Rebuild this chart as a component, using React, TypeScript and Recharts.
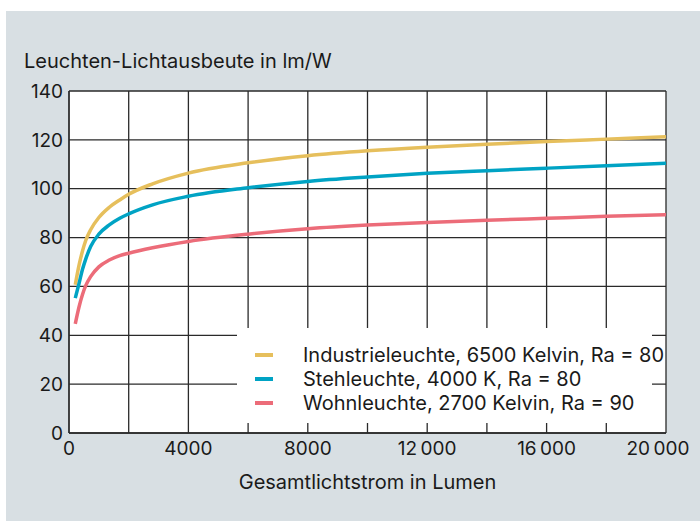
import { CartesianGrid, Legend, Line, LineChart, XAxis, YAxis } from "recharts";

const lumen = [210, 340, 450, 560, 730, 1000, 1350, 1700, 2000, 2800, 4000, 6000, 8000, 10000, 12000, 14000, 16000, 18000, 20000];
const industrie = [60.7, 68.9, 74.4, 78.8, 83.3, 88.2, 92.4, 95.4, 97.7, 102.0, 106.4, 110.6, 113.5, 115.5, 117.0, 118.2, 119.3, 120.3, 121.3];
const steh = [55.2, 61.4, 66.9, 71.2, 76.4, 81.4, 85.2, 87.9, 89.7, 93.4, 96.9, 100.4, 103.0, 104.8, 106.3, 107.4, 108.4, 109.4, 110.4];
const wohn = [44.7, 51.8, 56.6, 60.3, 64.1, 68.0, 70.8, 72.6, 73.6, 75.8, 78.4, 81.4, 83.6, 85.1, 86.2, 87.1, 87.9, 88.7, 89.4];

const xTicks = [0, 2000, 4000, 6000, 8000, 10000, 12000, 14000, 16000, 18000, 20000];
const yTicks = [0, 20, 40, 60, 80, 100, 120, 140];

const series = [
  { key: "industrie", name: "Industrieleuchte, 6500 Kelvin, Ra = 80", color: "#e6bf5c" },
  { key: "steh", name: "Stehleuchte, 4000 K, Ra = 80", color: "#00a3c4" },
  { key: "wohn", name: "Wohnleuchte, 2700 Kelvin, Ra = 90", color: "#ec6c79" }
];

const data = lumen.map((x, i) => ({ x, industrie: industrie[i], steh: steh[i], wohn: wohn[i] }));

const FONT = "Inter, 'DejaVu Sans', sans-serif";
const INK = "#1a1a1a";
const GRID = "#2a2a2a";

const formatLumen = (v: number) => {
  if (v % 4000 !== 0) return "";
  return v >= 10000 ? String(v).replace(/(\d+)(\d{3})$/, "$1\u2009$2") : String(v);
};

function XTick(props: any) {
  const { x, y, payload } = props;
  const label = formatLumen(payload.value);
  if (!label) return null;
  const last = payload.value === 20000;
  return (
    <text x={last ? x - 8 : x} y={y} dy={14} textAnchor="middle" fontSize={19} fill={INK} fontFamily={FONT}>
      {label}
    </text>
  );
}

function LegendBox() {
  return (
    <div style={{ background: "#fff", width: 415, height: 95, position: "relative", fontFamily: FONT }}>
      {series.map((s, i) => (
        <div key={s.key} style={{ position: "absolute", left: 0, top: 15 + i * 24, height: 24, display: "flex", alignItems: "center" }}>
          <span style={{ display: "inline-block", marginLeft: 18, width: 18, height: 4, background: s.color }} />
          <span style={{ marginLeft: 30, fontSize: 20, color: INK, whiteSpace: "nowrap" }}>{s.name}</span>
        </div>
      ))}
    </div>
  );
}

export default function App() {
  return (
    <div style={{ position: "absolute", left: 0, top: 0, width: 700, height: 521, background: "#fff" }}>
      <div style={{ position: "absolute", left: 6, top: 11, width: 694, height: 510, background: "#d8dfe3" }}>
        <div style={{ position: "absolute", left: 18, top: 38, fontSize: 20, color: INK, fontFamily: FONT, whiteSpace: "nowrap" }}>
          Leuchten-Lichtausbeute in lm/W
        </div>
        <div style={{ position: "absolute", left: 63, width: 597, top: 459, textAlign: "center", fontSize: 20, color: INK, fontFamily: FONT }}>
          Gesamtlichtstrom in Lumen
        </div>
        <LineChart width={694} height={510} data={data} margin={{ top: 80, right: 34, left: 0, bottom: 0 }}>
          <CartesianGrid stroke={GRID} strokeWidth={1.3} fill="#fff" horizontalValues={yTicks} verticalValues={xTicks} />
          <XAxis
            dataKey="x"
            type="number"
            domain={[0, 20000]}
            ticks={xTicks}
            interval={0}
            height={88}
            tickLine={false}
            axisLine={{ stroke: GRID, strokeWidth: 1.3 }}
            tick={<XTick />}
          />
          <YAxis
            type="number"
            domain={[0, 140]}
            ticks={yTicks}
            interval={0}
            width={63}
            tickLine={false}
            tickSize={0}
            tickMargin={6}
            axisLine={{ stroke: GRID, strokeWidth: 1.3 }}
            tick={{ fontSize: 19, fill: INK, fontFamily: FONT }}
          />
          <Legend
            layout="horizontal"
            verticalAlign="middle"
            align="center"
            content={<LegendBox />}
            wrapperStyle={{ left: 231, top: 317, width: 415, height: 95 }}
          />
          {series.map((s) => (
            <Line
              key={s.key}
              type="monotone"
              dataKey={s.key}
              name={s.name}
              stroke={s.color}
              strokeWidth={3.5}
              dot={false}
              isAnimationActive={false}
            />
          ))}
        </LineChart>
      </div>
    </div>
  );
}
